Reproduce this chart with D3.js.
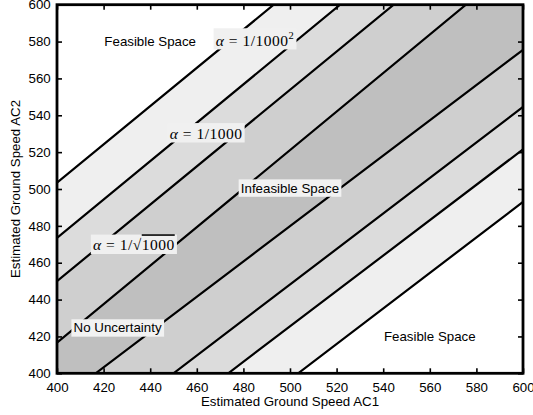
<!DOCTYPE html>
<html>
<head>
<meta charset="utf-8">
<script src="https://cdn.jsdelivr.net/npm/d3@7"></script>
<style>
  body { margin: 0; background: #fff; }
  svg { display: block; }
  text { font-family: "Liberation Sans", Arial, Helvetica, sans-serif; }
  .math { font-family: "Liberation Serif", "Times New Roman", serif; }
</style>
</head>
<body>
<svg id="chart" width="533" height="415"></svg>
<script>
// Axis ticks (ground speeds, knots)
const xTicks = [400, 420, 440, 460, 480, 500, 520, 540, 560, 580, 600];
const yTicks = [400, 420, 440, 460, 480, 500, 520, 540, 560, 580, 600];

// Contour lines above the diagonal (AC2 faster), outermost first: [AC1, AC2] endpoints
const upperLines = [
  [[400, 503.5], [493, 600]],    // alpha = 1/1000^2
  [[400, 473.5], [521.5, 600]],  // alpha = 1/1000
  [[400, 450], [544.5, 600]],    // alpha = 1/sqrt(1000)
  [[400, 416.6], [575.5, 600]]   // no uncertainty
];
// Contour lines below the diagonal (AC1 faster), outermost first
const lowerLines = [
  [[503.5, 400], [600, 493]],
  [[473.5, 400], [600, 521.5]],
  [[450, 400], [600, 544.5]],
  [[416.6, 400], [600, 575.5]]
];

// Fill outside each contour, outermost first; the core band is the infeasible region
const bandFills = ["#ffffff", "#efefef", "#dcdcdc", "#cfcfcf"];
const coreFill = "#bfbfbf";

// Annotations: [AC1, AC2] position, text parts, box fill
const labels = [
  { pos: [440, 580], kind: "plain", text: "Feasible Space", box: null },
  { pos: [485, 581], kind: "alphaSq", box: "#f0f0f0" },
  { pos: [464, 530.5], kind: "alpha", box: "#f0f0f0" },
  { pos: [433, 470], kind: "alphaSqrt", box: "#f0f0f0" },
  { pos: [500, 500.5], kind: "plain", text: "Infeasible Space", box: "#f2f2f2" },
  { pos: [426, 424.6], kind: "plain", text: "No Uncertainty", box: "#f2f2f2" },
  { pos: [560, 420], kind: "plain", text: "Feasible Space", box: null }
];

const xTitle = "Estimated Ground Speed AC1";
const yTitle = "Estimated Ground Speed AC2";

const W = 533, H = 415;
const margin = { top: 4.7, right: 10, bottom: 41.7, left: 57 };
const iw = W - margin.left - margin.right;
const ih = H - margin.top - margin.bottom;

const svg = d3.select("#chart");
const g = svg.append("g").attr("transform", `translate(${margin.left},${margin.top})`);

const x = d3.scaleLinear().domain([400, 600]).range([0, iw]);
const y = d3.scaleLinear().domain([400, 600]).range([ih, 0]);

g.append("clipPath").attr("id", "plotClip")
  .append("rect").attr("width", iw).attr("height", ih);

const plot = g.append("g").attr("clip-path", "url(#plotClip)");
plot.append("rect").attr("width", iw).attr("height", ih).attr("fill", coreFill);

const line = d3.line().x(d => x(d[0])).y(d => y(d[1]));
const [x0, x1] = x.domain();
const [y0, y1] = y.domain();

// paint from the innermost contour outward so each region keeps its own shade
for (let i = upperLines.length - 1; i >= 0; i--) {
  plot.append("path")
    .attr("d", line([...upperLines[i], [x0, y1]]) + "Z")
    .attr("fill", bandFills[i]);
  plot.append("path")
    .attr("d", line([...lowerLines[i], [x1, y0]]) + "Z")
    .attr("fill", bandFills[i]);
}

plot.selectAll("path.contour")
  .data([...upperLines, ...lowerLines])
  .join("path")
  .attr("class", "contour")
  .attr("d", line)
  .attr("fill", "none")
  .attr("stroke", "#000")
  .attr("stroke-width", 2.2)
  .attr("stroke-linecap", "round");

// Axes with inward ticks on all four sides
const fontSize = 13.3;
function styleAxis(sel) {
  sel.select(".domain").remove();
  sel.selectAll(".tick line").attr("stroke", "#000").attr("stroke-width", 1.6);
  sel.selectAll(".tick text").attr("fill", "#000").style("font-size", fontSize + "px")
    .style("font-family", '"Liberation Sans", Arial, sans-serif');
}
g.append("g").attr("transform", `translate(0,${ih})`)
  .call(d3.axisBottom(x).tickValues(xTicks).tickSize(-5).tickPadding(8.8).tickFormat(d3.format("d")))
  .call(styleAxis);
g.append("g")
  .call(d3.axisLeft(y).tickValues(yTicks).tickSize(-5).tickPadding(6.3).tickFormat(d3.format("d")))
  .call(styleAxis);
g.append("g")
  .call(d3.axisTop(x).tickValues(xTicks).tickSize(-5).tickFormat(""))
  .call(styleAxis);
g.append("g").attr("transform", `translate(${iw},0)`)
  .call(d3.axisRight(y).tickValues(yTicks).tickSize(-5).tickFormat(""))
  .call(styleAxis);

g.append("rect").attr("width", iw).attr("height", ih)
  .attr("fill", "none").attr("stroke", "#000").attr("stroke-width", 2.8);

// Axis titles
g.append("text")
  .attr("x", iw / 2).attr("y", ih + 33)
  .attr("text-anchor", "middle")
  .style("font-size", fontSize + "px")
  .text(xTitle);
svg.append("text")
  .attr("transform", `translate(20,${margin.top + ih / 2}) rotate(-90)`)
  .attr("text-anchor", "middle")
  .style("font-size", fontSize + "px")
  .text(yTitle);

// Annotations
const annot = g.append("g");
labels.forEach(l => {
  const grp = annot.append("g");
  const t = grp.append("text")
    .attr("x", x(l.pos[0])).attr("y", y(l.pos[1]))
    .attr("text-anchor", "middle")
    .attr("dominant-baseline", "central");
  if (l.kind === "plain") {
    t.style("font-size", fontSize + "px").text(l.text);
  } else {
    t.attr("class", "math").style("font-size", "15.5px").style("letter-spacing", "0.5px");
    t.append("tspan").style("font-style", "italic").text("α");
    if (l.kind === "alphaSqrt") {
      t.append("tspan").text(" = 1/√");
      t.append("tspan").style("text-decoration", "overline").text("1000");
    } else {
      t.append("tspan").text(" = 1/1000");
      if (l.kind === "alphaSq") {
        t.append("tspan").attr("dy", "-0.45em").style("font-size", "10.5px").text("2");
      }
    }
  }
  if (l.box) {
    const b = t.node().getBBox();
    grp.insert("rect", "text")
      .attr("x", b.x - 2.2).attr("y", b.y - 1.2)
      .attr("width", b.width + 4.4).attr("height", b.height + 2.4)
      .attr("fill", l.box);
  }
});
</script>
</body>
</html>
